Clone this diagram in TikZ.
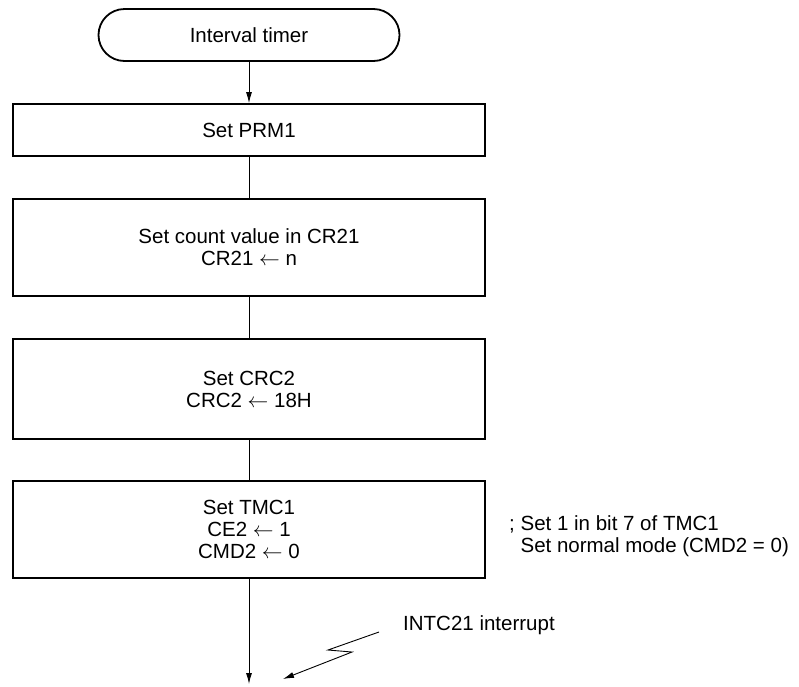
\documentclass[tikz,border=0pt]{standalone}
\usepackage{fontspec}
\setmainfont{Liberation Sans}
\usetikzlibrary{arrows.meta}

\begin{document}
\begin{tikzpicture}[x=1pt,y=-1pt,font=\fontsize{20.5}{22}\selectfont]
\tikzset{term/.style={draw,line width=1.8pt,rounded corners=26pt,minimum width=301pt,minimum height=52pt,inner sep=0pt},
         stepbox/.style={draw,line width=1.8pt,minimum width=472pt,inner sep=0pt,align=center},
         link/.style={line width=0.9pt},
         linkarr/.style={line width=0.9pt,-{Latex[length=11pt,width=6pt]}}}
\def\xc{249}
\useasboundingbox (0,0) rectangle (799,686);
% Start terminal
\node[term] (start) at (\xc,35) {Interval timer};
% Process boxes
\node[stepbox,minimum height=52pt] (prm) at (\xc,130) {Set PRM1};
\node[stepbox,minimum height=97pt] (crval) at (\xc,247.5) {Set count value in CR21\\CR21 $\leftarrow$ n};
\node[stepbox,minimum height=100pt] (crc) at (\xc,389) {Set CRC2\\CRC2 $\leftarrow$ 18H};
\node[stepbox,minimum height=97pt] (tmc) at (\xc,529.5) {Set TMC1\\CE2 $\leftarrow$ 1\\CMD2 $\leftarrow$ 0};
% Comment beside TMC1
\node[anchor=west,align=left,inner sep=0pt] (note) at (509,536) {; Set 1 in bit 7 of TMC1\\\phantom{; }Set normal mode (CMD2 = 0)};
% Flow lines
\draw[linkarr](start)--(prm);
\draw[link](prm)--(crval);
\draw[link](crval)--(crc);
\draw[link](crc)--(tmc);
\coordinate (tail) at (\xc,684);
\draw[linkarr](tmc.south)--(tail);
% Interrupt
\node[anchor=west,inner sep=0pt] (intlbl) at (403,625) {INTC21 interrupt};
\coordinate (boltA) at (379,632);
\coordinate (boltB) at (328,650);
\coordinate (boltC) at (352,652);
\coordinate (boltD) at (283,679);
\draw[linkarr](boltA)--(boltB)--(boltC)--(boltD);
\end{tikzpicture}
\end{document}
